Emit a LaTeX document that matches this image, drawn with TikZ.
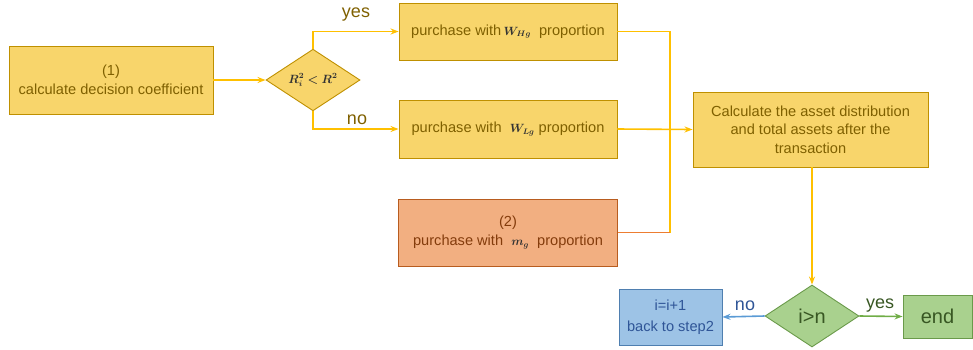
\documentclass[tikz,border=0pt]{standalone}
\usepackage{fontspec}
\usepackage{amsmath,bm}
\setmainfont{Liberation Sans}
\usetikzlibrary{shapes.geometric,arrows.meta}
\definecolor{yfill}{HTML}{F8D56B}
\definecolor{ydraw}{HTML}{BF9000}
\definecolor{ytext}{HTML}{7F6000}
\definecolor{yline}{HTML}{FFC000}
\definecolor{ofill}{HTML}{F2AF81}
\definecolor{odraw}{HTML}{B85C1F}
\definecolor{otext}{HTML}{843C0C}
\definecolor{oline}{HTML}{ED7D31}
\definecolor{bfill}{HTML}{9DC3E6}
\definecolor{bdraw}{HTML}{4F7FB0}
\definecolor{btext}{HTML}{2F5597}
\definecolor{bline}{HTML}{5B9BD5}
\definecolor{gfill}{HTML}{A9D18E}
\definecolor{gdraw}{HTML}{6A9A4A}
\definecolor{gtext}{HTML}{385723}
\definecolor{gline}{HTML}{70AD47}
\tikzset{
  ybox/.style={draw=ydraw,fill=yfill,text=ytext,line width=0.9bp,inner sep=0pt,align=center,font=\fontsize{14.6bp}{18.5bp}\selectfont},
  obox/.style={ybox,draw=odraw,fill=ofill,text=otext},
  bbox/.style={ybox,draw=bdraw,fill=bfill,text=btext,font=\fontsize{14.6bp}{21bp}\selectfont},
  gbox/.style={ybox,draw=gdraw,fill=gfill,text=gtext,font=\fontsize{20bp}{22bp}\selectfont},
  ydia/.style={diamond,draw=ydraw,fill=yfill,line width=0.9bp,inner sep=0pt,font=\fontsize{12bp}{14bp}\selectfont},
  gdia/.style={diamond,draw=gdraw,fill=gfill,text=gtext,line width=0.9bp,inner sep=0pt,font=\fontsize{20bp}{22bp}\selectfont},
  conn/.style={draw=yline,line width=1.6bp,-{Stealth[length=8bp,width=6bp]}},
  plain/.style={draw=yline,line width=1.6bp},
  lbl/.style={text=ytext,font=\fontsize{18bp}{20bp}\selectfont,inner sep=0pt},
}
\newcommand{\mth}[1]{{\color{black!80}\fontsize{11.5bp}{13bp}\selectfont$#1$}}
\begin{document}
\begin{tikzpicture}[x=1bp,y=-1bp]
\useasboundingbox (0,0) rectangle (973,349);
\node[ybox,minimum width=204bp,minimum height=68bp] (calc1) at (111,80) {(1)\\calculate decision coefficient};
\node[ydia,minimum width=94bp,minimum height=60bp] (d1) at (313,80) {\mth{\bm{R_i^2<R^2}}};
\node[ybox,minimum width=218bp,minimum height=57bp] (wh) at (508,31.5) {purchase with\,\mth{\bm{W_{Hg}}}\ \ proportion};
\node[ybox,minimum width=218bp,minimum height=58bp] (wl) at (508,129) {purchase with\ \ \mth{\bm{W_{Lg}}}\ proportion};
\node[obox,minimum width=219bp,minimum height=67bp] (mg) at (508,232.5) {(2)\\purchase with\ \ \mth{\bm{m_g}}\ \ proportion};
\node[ybox,minimum width=235bp,minimum height=75bp] (asset) at (810.5,129.5) {Calculate the asset distribution\\and total assets after the\\transaction};
\node[gdia,minimum width=94bp,minimum height=62bp] (d2) at (812,316) {i>n};
\node[bbox,minimum width=103bp,minimum height=56bp] (inc) at (670.5,317) {i=i+1\\back to step2};
\node[gbox,minimum width=69bp,minimum height=43bp] (end) at (937.5,316.5) {end};
\coordinate (j1) at (670,31.5);
\coordinate (j2) at (670,232.5);
\draw[conn] (calc1) -- (d1);
\draw[conn] (d1.north) |- (wh.west);
\draw[conn] (d1.south) |- (wl.west);
\draw[plain] (wh.east) -- (j1) -- (j2);
\draw[draw=oline,line width=1.6bp] (mg.east) -- (j2);
\draw[conn] (wl.east) -- (asset.west);
\draw[conn] (asset.south -| d2.north) -- (d2.north);
\draw[conn,draw=bline] (d2.west) -- (inc.east);
\draw[conn,draw=gline] (d2.east) -- (end.west);
\node[lbl] (yes1) at (356,15) {yes};
\node[lbl] (no1) at (357,120) {no};
\node[lbl,text=btext] (no2) at (745,306) {no};
\node[lbl,text=gtext] (yes2) at (880,306) {yes};
\end{tikzpicture}
\end{document}
